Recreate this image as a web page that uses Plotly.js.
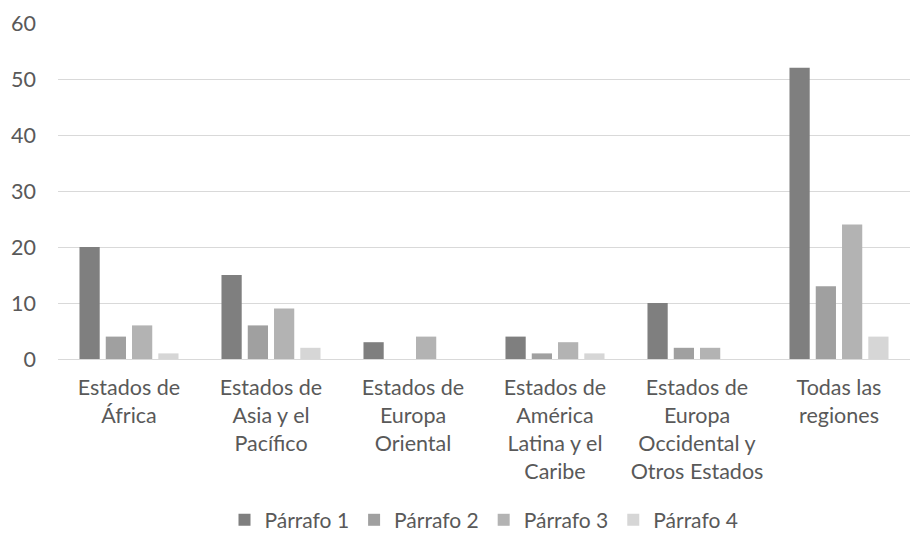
<!DOCTYPE html>
<html>
<head>
<meta charset="utf-8">
<script src="https://cdn.plot.ly/plotly-3.0.1.min.js"></script>
<style>
  html, body { margin: 0; padding: 0; background: #ffffff; }
  #chart { width: 914px; height: 539px; }
</style>
</head>
<body>
<div id="chart"></div>
<script>
// Regional groups (x-axis categories)
const categories = [
  "Estados de<br>África",
  "Estados de<br>Asia y el<br>Pacífico",
  "Estados de<br>Europa<br>Oriental",
  "Estados de<br>América<br>Latina y el<br>Caribe",
  "Estados de<br>Europa<br>Occidental y<br>Otros Estados",
  "Todas las<br>regiones"
];

// Counts per paragraph
const parrafo1 = [20, 15, 3, 4, 10, 52];
const parrafo2 = [4, 6, 0, 1, 2, 13];
const parrafo3 = [6, 9, 4, 3, 2, 24];
const parrafo4 = [1, 2, 0, 1, 0, 4];

const seriesNames = ["Párrafo 1", "Párrafo 2", "Párrafo 3", "Párrafo 4"];
const seriesValues = [parrafo1, parrafo2, parrafo3, parrafo4];
const seriesColors = ["#7f7f7f", "#a0a0a0", "#b3b3b3", "#d6d6d6"];

const yTicks = [0, 10, 20, 30, 40, 50, 60];

const traces = seriesValues.map((vals, i) => ({
  type: "bar",
  name: seriesNames[i],
  x: categories,
  y: vals,
  marker: { color: seriesColors[i], line: { width: 0 } },
  hoverinfo: "x+y+name"
}));

const font = "Lato, 'Open Sans', sans-serif";

const layout = {
  width: 914,
  height: 539,
  margin: { l: 58, r: 4, t: 23, b: 180 },
  paper_bgcolor: "#ffffff",
  plot_bgcolor: "#ffffff",
  barmode: "group",
  bargap: 0.26,
  bargroupgap: 0.23,
  font: { family: font, size: 21.5, color: "#595959" },
  xaxis: {
    type: "category",
    showgrid: false,
    showline: true,
    linecolor: "#d9d9d9",
    linewidth: 1,
    ticks: "",
    tickfont: { family: font, size: 21.5, color: "#595959" },
    ticklabelstandoff: 9,
    zeroline: false
  },
  yaxis: {
    range: [0, 60],
    tickvals: yTicks,
    ticktext: yTicks.map(String),
    showgrid: true,
    gridcolor: "#d9d9d9",
    gridwidth: 1,
    zeroline: false,
    showline: false,
    ticks: "",
    ticklabelstandoff: 21,
    tickfont: { family: font, size: 21.5, color: "#595959" }
  },
  showlegend: true,
  legend: {
    orientation: "h",
    xref: "paper",
    x: 0.5,
    xanchor: "center",
    yref: "container",
    y: 0.035,
    yanchor: "middle",
    font: { family: font, size: 21, color: "#595959" },
    itemwidth: 30,
    traceorder: "normal"
  }
};

Plotly.newPlot("chart", traces, layout, { displayModeBar: false, staticPlot: true });
</script>
</body>
</html>
